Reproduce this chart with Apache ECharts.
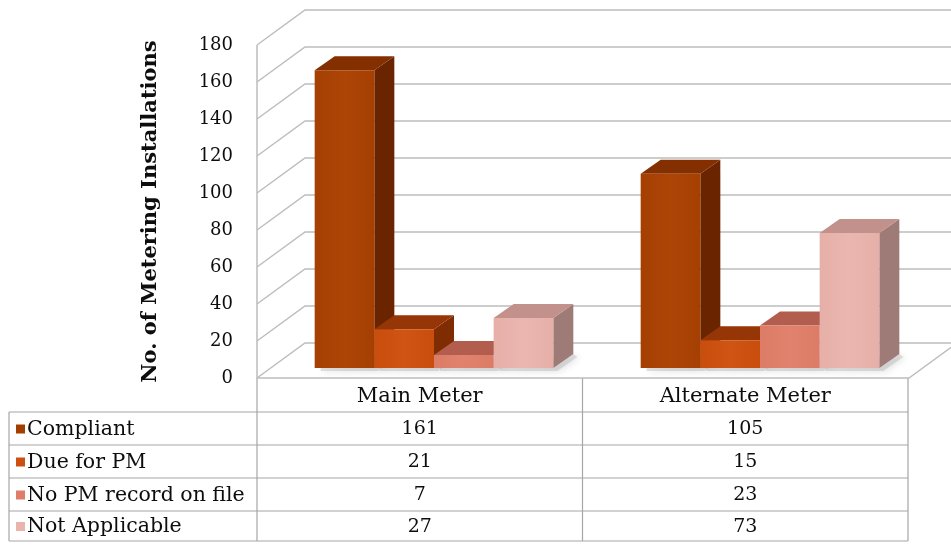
<!DOCTYPE html>
<html>
<head>
<meta charset="utf-8">
<script src="https://cdn.jsdelivr.net/npm/echarts@6/dist/echarts.min.js"></script>
<style>
  html, body { margin: 0; padding: 0; background: #ffffff; }
  #chart { width: 951px; height: 545px; }
</style>
</head>
<body>
<div id="chart"></div>
<script>
// Metering installations by PM status
const categories = ['Main Meter', 'Alternate Meter'];
const seriesNames = ['Compliant', 'Due for PM', 'No PM record on file', 'Not Applicable'];
const compliant = [161, 105];
const dueForPM = [21, 15];
const noPMRecord = [7, 23];
const notApplicable = [27, 73];
const yTicks = [0, 20, 40, 60, 80, 100, 120, 140, 160, 180];

const seriesValues = [compliant, dueForPM, noPMRecord, notApplicable];

// face colours per series: front, top, side, legend key
const palette = [
  { front: '#a53f02', frontHi: '#ad4507', top: '#832f00', side: '#6a2500', key: '#a33e00' },
  { front: '#c94e0e', frontHi: '#d05413', top: '#963606', side: '#7f2c03', key: '#cc5010' },
  { front: '#dc7c67', frontHi: '#e0826d', top: '#b25d4d', side: '#9a5043', key: '#de7e6a' },
  { front: '#e6b0a8', frontHi: '#eab6af', top: '#c2918b', side: '#9e7b77', key: '#e8b4ac' }
];

const serifFont = '"DejaVu Serif", "Liberation Serif", serif';
const TEXT_COLOR = '#0d0d0d';

// 3D projection of the box: the bar plane sits a little behind the front of the floor
const FRONT_DX = -14, FRONT_DY = 10;   // bar plane -> front edge of floor / side wall
const BACK_DX = 34, BACK_DY = -25;     // bar plane -> back wall
const BAR_DX = 20, BAR_DY = -14;       // bar depth
const GROUP_FRACTION = 0.732;          // share of a category band used by the 4 bars
const GRID_COLOR = '#bdbdbd';

const chart = echarts.init(document.getElementById('chart'), null, { renderer: 'canvas' });

function wallRender(params, api) {
  const v = api.value(1);
  const cs = params.coordSys;
  const y = api.coord([0, v])[1];
  const children = [];
  const fx = cs.x + FRONT_DX, fy = y + FRONT_DY;
  const bx = cs.x + BACK_DX, by = y + BACK_DY;
  children.push({
    type: 'polyline',
    shape: { points: [[fx, fy], [bx, by], [960, by]] },
    style: { stroke: GRID_COLOR, lineWidth: 1.5, fill: null },
    silent: true
  });
  if (v === 0) {
    // floor front edge and right edge
    const rx = cs.x + cs.width + FRONT_DX;
    children.push({
      type: 'polyline',
      shape: { points: [[fx, fy], [rx, fy], [rx + (BACK_DX - FRONT_DX), by]] },
      style: { stroke: GRID_COLOR, lineWidth: 1.5, fill: null },
      silent: true
    });
    const yTop = api.coord([0, yTicks[yTicks.length - 1]])[1] + FRONT_DY;
    children.push({
      type: 'line',
      shape: { x1: fx, y1: yTop, x2: fx, y2: fy },
      style: { stroke: GRID_COLOR, lineWidth: 1.5 },
      silent: true
    });
  }
  return { type: 'group', children: children };
}

function makeBarRender(s) {
  return function (params, api) {
    const cat = api.value(0);
    const val = api.value(1);
    const base = api.coord([cat, 0]);
    const top = api.coord([cat, val]);
    const band = api.size([1, 0])[0];
    const barW = band * GROUP_FRACTION / 4;
    const xl = base[0] - band * GROUP_FRACTION / 2 + s * barW;
    const xr = xl + barW;
    const yb = base[1];
    const yt = top[1];
    const c = palette[s];
    const children = [];
    // soft floor shadow
    children.push({
      type: 'polygon',
      z2: -20,
      shape: { points: [[xl + 6, yb], [xr + BAR_DX, yb + BAR_DY], [xr + BAR_DX + 4, yb + BAR_DY + 3], [xr + 4, yb + 3], [xl + 6, yb + 3]] },
      style: { fill: 'rgba(170,170,170,0.35)', shadowBlur: 7, shadowColor: 'rgba(0,0,0,0.3)', shadowOffsetX: 2, shadowOffsetY: 1 },
      silent: true
    });
    children.push({
      type: 'polygon',
      shape: { points: [[xr, yt], [xr + BAR_DX, yt + BAR_DY], [xr + BAR_DX, yb + BAR_DY], [xr, yb]] },
      style: { fill: c.side }
    });
    children.push({
      type: 'polygon',
      shape: { points: [[xl, yt], [xl + BAR_DX, yt + BAR_DY], [xr + BAR_DX, yt + BAR_DY], [xr, yt]] },
      style: { fill: c.top }
    });
    children.push({
      type: 'rect',
      shape: { x: xl, y: yt, width: barW, height: yb - yt },
      style: {
        fill: new echarts.graphic.LinearGradient(0, 0, 1, 0, [
          { offset: 0, color: c.front },
          { offset: 0.5, color: c.frontHi },
          { offset: 1, color: c.front }
        ])
      }
    });
    return { type: 'group', children: children };
  };
}

const barSeries = seriesNames.map(function (name, s) {
  return {
    type: 'custom',
    name: name,
    xAxisIndex: 0,
    yAxisIndex: 0,
    z: 3,
    renderItem: makeBarRender(s),
    encode: { x: 0, y: 1 },
    data: seriesValues[s].map(function (v, i) { return [i, v]; })
  };
});

const option = {
  animation: false,
  backgroundColor: '#ffffff',
  grid: [
    // bar plane
    { left: 271, right: 28, top: 35, bottom: 177 },
    // front plane of the box (axis labels)
    { left: 257, right: 43, top: 45, bottom: 167 }
  ],
  xAxis: [
    { type: 'category', data: categories, gridIndex: 0, show: false },
    {
      type: 'category', data: categories, gridIndex: 1,
      axisLine: { show: false }, axisTick: { show: false },
      axisLabel: { margin: 19, verticalAlign: 'middle', color: TEXT_COLOR, fontFamily: serifFont, fontSize: 21 }
    }
  ],
  yAxis: [
    { type: 'value', min: 0, max: 180, interval: 20, gridIndex: 0, show: false },
    {
      type: 'value', min: 0, max: 180, interval: 20, gridIndex: 1,
      name: 'No. of Metering Installations',
      nameLocation: 'middle',
      nameRotate: 90,
      nameGap: 96,
      nameTextStyle: { fontFamily: serifFont, fontWeight: 'bold', fontSize: 21, color: TEXT_COLOR },
      axisLine: { show: false }, axisTick: { show: false }, splitLine: { show: false },
      axisLabel: { margin: 24, color: TEXT_COLOR, fontFamily: serifFont, fontSize: 18 }
    }
  ],
  series: [
    {
      type: 'custom',
      name: 'walls',
      xAxisIndex: 0,
      yAxisIndex: 0,
      z: 1,
      silent: true,
      renderItem: wallRender,
      encode: { x: 0, y: 1 },
      data: yTicks.map(function (v) { return [0, v]; })
    }
  ].concat(barSeries)
};

chart.setOption(option);

// data table under the chart, columns aligned with the category axis of the front plane
(function drawTable() {
  const TABLE_LEFT = 9, LABEL_RIGHT = 257;
  const HEADER_TOP = 378;
  const rowTops = [412, 445, 478, 511];
  const TABLE_BOTTOM = 541;
  const lineStyle = { stroke: '#a6a6a6', lineWidth: 1.2 };
  const els = [];
  const colLeft = LABEL_RIGHT;
  const band = chart.convertToPixel({ xAxisIndex: 1 }, 1) - chart.convertToPixel({ xAxisIndex: 1 }, 0);
  const centers = categories.map(function (c, i) { return chart.convertToPixel({ xAxisIndex: 1 }, i); });
  const colRight = centers[centers.length - 1] + band / 2;

  // vertical rules
  els.push({ type: 'line', shape: { x1: colLeft, y1: HEADER_TOP, x2: colLeft, y2: TABLE_BOTTOM }, style: lineStyle });
  for (let i = 0; i < categories.length; i++) {
    const x = centers[i] + band / 2;
    els.push({ type: 'line', shape: { x1: x, y1: HEADER_TOP, x2: x, y2: TABLE_BOTTOM }, style: lineStyle });
  }
  els.push({ type: 'line', shape: { x1: TABLE_LEFT, y1: rowTops[0], x2: TABLE_LEFT, y2: TABLE_BOTTOM }, style: lineStyle });
  // horizontal rules
  rowTops.concat([TABLE_BOTTOM]).forEach(function (y) {
    els.push({ type: 'line', shape: { x1: TABLE_LEFT, y1: y, x2: colRight, y2: y }, style: lineStyle });
  });

  seriesNames.forEach(function (name, s) {
    const top = rowTops[s];
    const bottom = s + 1 < rowTops.length ? rowTops[s + 1] : TABLE_BOTTOM;
    const mid = (top + bottom) / 2;
    els.push({ type: 'rect', shape: { x: 16, y: mid - 4, width: 9, height: 9 }, style: { fill: palette[s].key } });
    els.push({
      type: 'text',
      style: { text: name, x: 27, y: mid + 1, verticalAlign: 'middle', align: 'left', fill: TEXT_COLOR, font: '20.5px ' + serifFont }
    });
    seriesValues[s].forEach(function (v, i) {
      els.push({
        type: 'text',
        style: { text: String(v), x: centers[i], y: mid + 1, verticalAlign: 'middle', align: 'center', fill: TEXT_COLOR, font: '19px ' + serifFont }
      });
    });
  });

  chart.setOption({ graphic: { elements: els } });
})();
</script>
</body>
</html>
